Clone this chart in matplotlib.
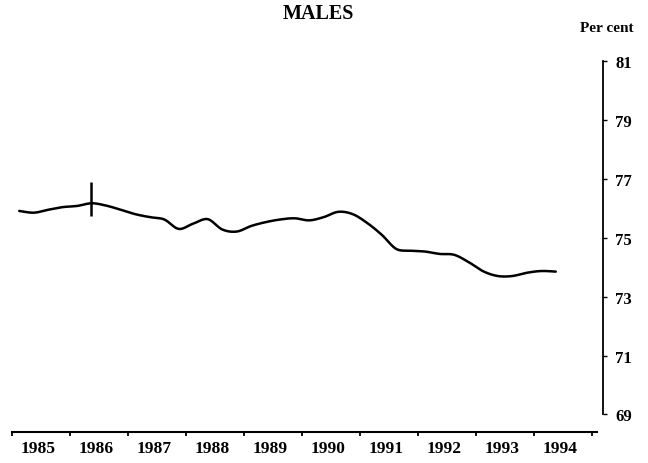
import numpy as np
import matplotlib
matplotlib.use("Agg")
import matplotlib.pyplot as plt

# quarterly percentages, 1985 Q1 .. 1994 Q2
years = [1985, 1986, 1987, 1988, 1989, 1990, 1991, 1992, 1993, 1994]
quarter_values = [
    75.91, 75.85, 75.95, 76.04,
    76.08, 76.17, 76.09, 75.95,
    75.80, 75.70, 75.62, 75.30,
    75.48, 75.63, 75.28, 75.21,
    75.40, 75.53, 75.62, 75.66,
    75.59, 75.70, 75.88, 75.80,
    75.50, 75.10, 74.62, 74.56,
    74.53, 74.45, 74.42, 74.17,
    73.86, 73.70, 73.70, 73.81,
    73.87, 73.85,
]
break_date = 1986.36          # series break marker
break_range = (75.73, 76.90)
y_ticks = [69, 71, 73, 75, 77, 79, 81]

# time of each quarter (mid-quarter)
t = np.array([years[0] + i / 4 + 0.125 for i in range(len(quarter_values))])
v = np.array(quarter_values)


def catmull_rom(x, y, n=12):
    # smooth curve through the points
    xs, ys = [], []
    px = np.concatenate([[x[0]], x, [x[-1]]])
    py = np.concatenate([[y[0]], y, [y[-1]]])
    for i in range(1, len(px) - 2):
        s = np.linspace(0, 1, n, endpoint=False)
        for arr, out in ((px, xs), (py, ys)):
            p0, p1, p2, p3 = arr[i - 1], arr[i], arr[i + 1], arr[i + 2]
            out.extend(0.5 * (2 * p1 + (-p0 + p2) * s
                              + (2 * p0 - 5 * p1 + 4 * p2 - p3) * s ** 2
                              + (-p0 + 3 * p1 - 3 * p2 + p3) * s ** 3))
    xs.append(x[-1])
    ys.append(y[-1])
    return np.array(xs), np.array(ys)


plt.rcParams['font.family'] = ['Liberation Serif', 'DejaVu Serif']

fig = plt.figure(figsize=(6.48, 4.64), dpi=100)
ax = fig.add_axes([12 / 648, 31.5 / 464, 591 / 648, 370.5 / 464])

sx, sy = catmull_rom(t, v)
ax.plot(sx, sy, color='black', lw=1.8, solid_capstyle='round')
ax.vlines(break_date, *break_range, color='black', lw=1.8)

ax.set_xlim(1985, 1985 + 591 / 58)
ax.set_ylim(69 - 17 / 29.4, 81)

for s in ['top', 'left']:
    ax.spines[s].set_visible(False)
ax.spines['bottom'].set_bounds(1985, 1995.09)
ax.spines['right'].set_bounds(69, 81)
ax.spines['bottom'].set_linewidth(1.5)
ax.spines['right'].set_linewidth(1.3)

ax.set_xticks(range(1985, 1996))
ax.set_xticklabels([])
ax.set_xticks([y + 0.45 for y in years], minor=True)
ax.set_xticklabels([str(y) for y in years], minor=True,
                   fontsize=12.5, fontweight='bold')
ax.tick_params(axis='x', which='major', direction='out', length=3, width=1.3)
ax.tick_params(axis='x', which='minor', length=0, pad=6)

ax.yaxis.tick_right()
ax.set_yticks(y_ticks)
ax.set_yticklabels([str(y) for y in y_ticks], fontsize=12, fontweight='bold')
ax.tick_params(axis='y', direction='out', length=3, width=1, pad=6)

fig.text(318 / 648, 1 - 14 / 464, 'MALES', ha='center', va='center',
         fontsize=14.5, fontweight='bold')
fig.text(607 / 648, 1 - 29 / 464, 'Per cent', ha='center', va='center',
         fontsize=11, fontweight='bold')

fig.savefig('out.png', dpi=100)
